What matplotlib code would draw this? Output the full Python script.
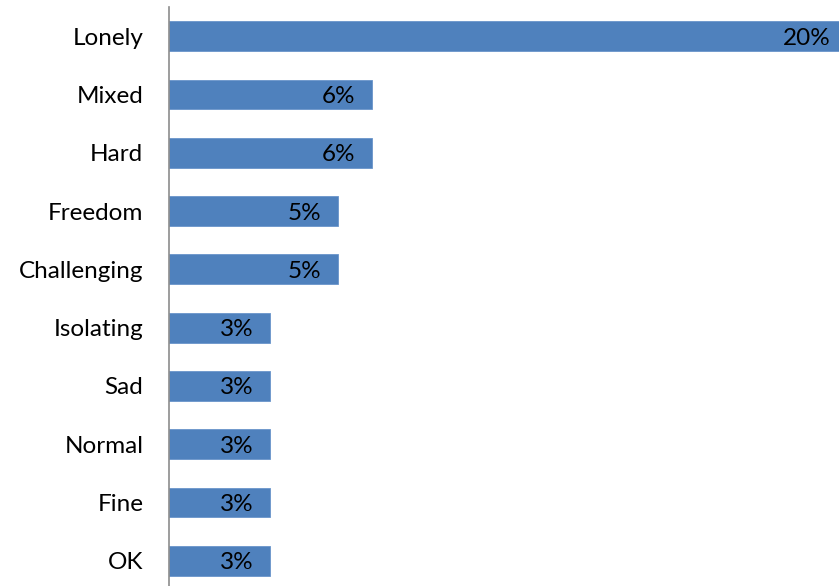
import matplotlib.pyplot as plt

# categories top to bottom, share in percent
categories = ["Lonely", "Mixed", "Hard", "Freedom", "Challenging",
              "Isolating", "Sad", "Normal", "Fine", "OK"]
values = [20, 6, 6, 5, 5, 3, 3, 3, 3, 3]
value_labels = ["20%", "6%", "6%", "5%", "5%", "3%", "3%", "3%", "3%", "3%"]

plt.rcParams['font.family'] = ['Lato', 'DejaVu Sans']

fig = plt.figure(figsize=(8.39, 5.86), dpi=100)
# axes box: left edge at the axis line, bottom runs a bit past the image
ax = fig.add_axes([169 / 839, -4 / 586, 670 / 839, 583 / 586])

pos = list(range(len(categories)))
ax.barh(pos, values, height=0.51, color="#4F81BD", edgecolor="#6A95CB", linewidth=0.6)
ax.set_ylim(len(categories) - 0.5, -0.5)
ax.set_xlim(0, 19.82)

ax.set_yticks(pos)
ax.set_yticklabels(categories, fontsize=17.5)
ax.tick_params(axis="y", length=0, pad=18.5)
ax.set_xticks([])

for s in ["top", "right", "bottom"]:
    ax.spines[s].set_visible(False)
ax.spines["left"].set_color("#8C8C8C")
ax.spines["left"].set_linewidth(1.2)

for p, v, lab in zip(pos, values, value_labels):
    ax.annotate(lab, (min(v, 19.82), p), xytext=(-17 if v < 19 else -8, 0),
                textcoords="offset pixels",
                ha="right", va="center_baseline", fontsize=17.5, color="black")

fig.savefig("out.png", dpi=100)
